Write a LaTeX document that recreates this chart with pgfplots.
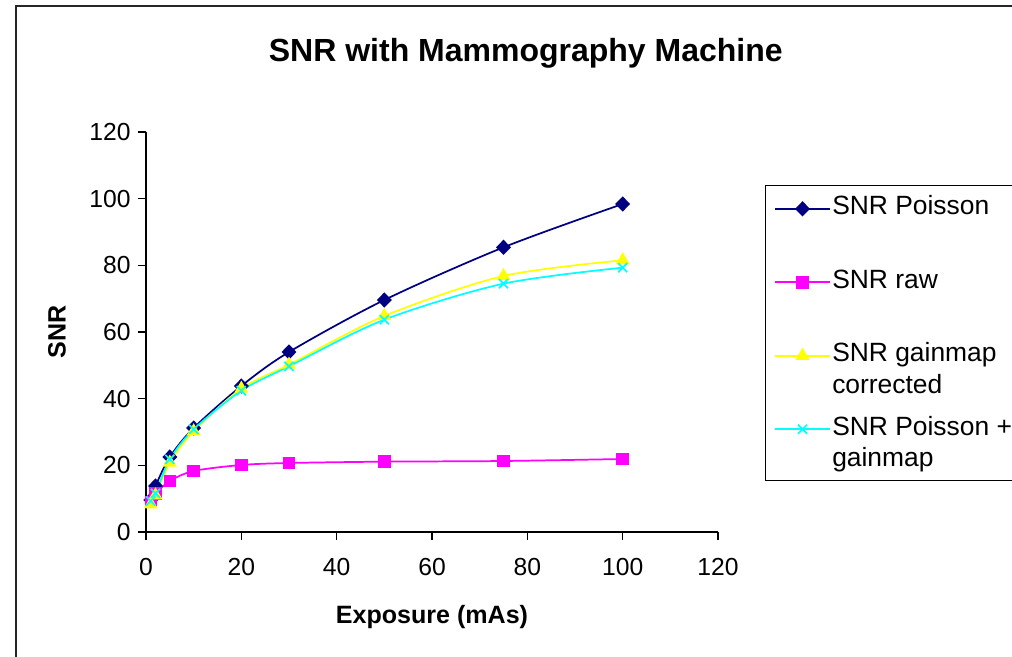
\documentclass[border=0pt]{standalone}
\usepackage{fontspec}
\setmainfont{Liberation Sans}
\usepackage{pgfplots}
\pgfplotsset{compat=1.18}
\definecolor{snrnavy}{RGB}{0,0,128}
\definecolor{snrmag}{RGB}{255,0,255}
\definecolor{snryel}{RGB}{255,255,0}
\definecolor{snrcyan}{RGB}{0,255,255}
\newcommand{\lgent}[1]{\smash{\begin{tabular}[t]{@{}l@{}}#1\end{tabular}}}
\begin{document}
\begin{tikzpicture}
\useasboundingbox (0,0) rectangle (759pt,492pt);
\draw[black!85, line width=0.9pt] (12pt,-20pt) -- (12pt,487.5pt) -- (800pt,487.5pt);
\begin{axis}[
  at={(109.5pt,93pt)}, anchor=south west,
  scale only axis, width=429pt, height=300pt,
  xmin=0, xmax=120, ymin=0, ymax=120,
  xtick={0,20,...,120}, ytick={0,20,...,120},
  axis x line*=bottom, axis y line*=left,
  axis line style={-, black, line width=0.8pt},
  tick align=outside, major tick length=6pt,
  tick style={black, line width=0.8pt},
  tick label style={font=\fontsize{18.5}{20}\selectfont},
  yticklabel style={xshift=-2pt},
  xticklabel style={yshift=-10.5pt},
  /pgf/number format/assume math mode=true,
  every axis title shift=0pt,
  title={\textbf{SNR with Mammography Machine}},
  title style={at={(0.664,1.1758)}, anchor=base, font=\fontsize{24}{26}\selectfont},
  xlabel={\textbf{Exposure (mAs)}},
  xlabel style={at={(0.5,-0.2125)}, anchor=center, font=\fontsize{18.8}{20}\selectfont},
  ylabel={\textbf{SNR}},
  ylabel style={at={(-0.1556,0.5)}, anchor=center, font=\fontsize{18.8}{20}\selectfont},
  legend style={at={(1.0822,0.8675)}, anchor=north west, draw=black, line width=0.75pt,
     font=\fontsize{19.8}{23.8}\selectfont, inner xsep=6.5pt, inner ysep=6pt,
     row sep=11.3pt, column sep=1pt,
     nodes={inner sep=0pt, text height=16pt, text depth=27.8pt},
     cells={anchor=base west}},
  legend image code/.code={\draw[mark repeat=2, mark phase=2, #1] plot coordinates {(0pt,4.5pt) (20.6pt,4.5pt) (41.25pt,4.5pt)};},
]
\addplot[snrnavy, line width=1.3pt, smooth, mark=diamond*, mark size=4.8pt, mark options={solid, xscale=1.3}] coordinates {
(1,9.6) (2,13.8) (5,22.5) (10,31.2) (20,43.8) (30,54.0) (50,69.6) (75,85.4) (100,98.4)};
\addlegendentry{\lgent{SNR Poisson}}
\addplot[snrmag, line width=1.3pt, smooth, mark=square*, mark size=4pt, mark options={solid}] coordinates {
(1,9.0) (2,11.5) (5,15.3) (10,18.3) (20,20.1) (30,20.7) (50,21.1) (75,21.3) (100,21.9)};
\addlegendentry{\lgent{SNR raw}}
\addplot[snryel, line width=1.3pt, smooth, mark=triangle*, mark size=4.8pt, mark options={solid}] coordinates {
(1,8.3) (2,11.0) (5,20.8) (10,30.2) (20,43.0) (30,50.2) (50,64.8) (75,76.8) (100,81.5)};
\addlegendentry{\lgent{SNR gainmap\\corrected}}
\addplot[snrcyan, line width=1.3pt, smooth, mark=x, mark size=4.8pt, mark options={solid, line width=1.3pt}] coordinates {
(1,9.3) (2,11.6) (5,21.8) (10,30.8) (20,42.4) (30,49.7) (50,63.7) (75,74.5) (100,79.3)};
\addlegendentry{\lgent{SNR Poisson +\\gainmap}}
\end{axis}
\end{tikzpicture}
\end{document}
